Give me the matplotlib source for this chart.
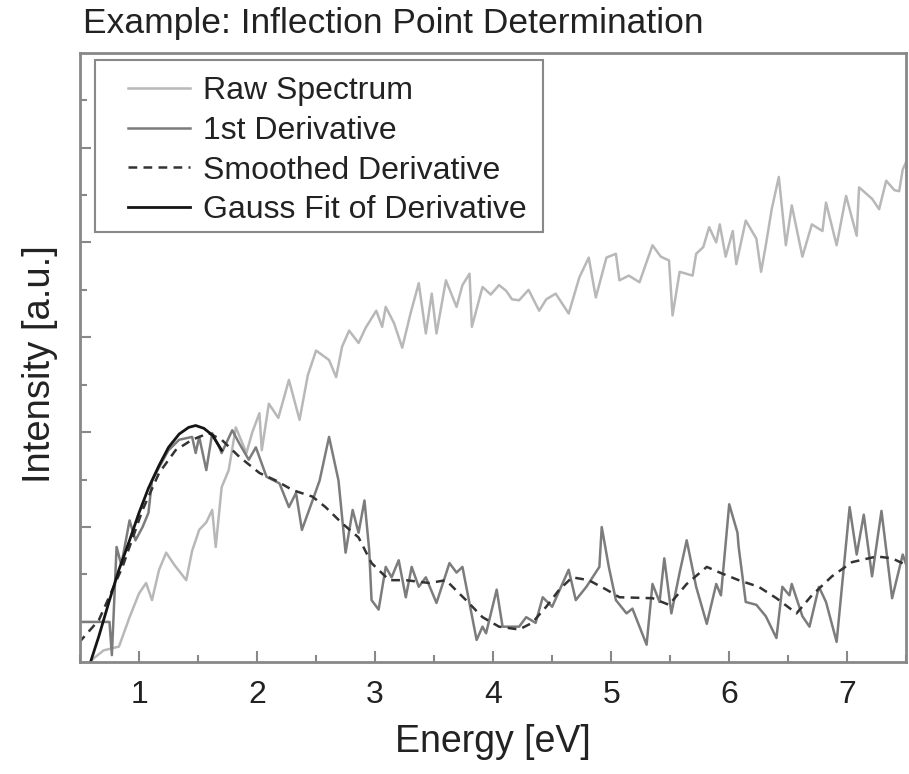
import matplotlib.pyplot as plt
from matplotlib.patches import Rectangle
import numpy as np

plt.rcParams['font.family'] = ['Liberation Sans', 'DejaVu Sans']

# Raw spectrum (light gray)
raw_x = [0.60, 0.70, 0.83, 0.92, 1.00, 1.06, 1.11, 1.17, 1.23, 1.30, 1.40, 1.45, 1.51, 1.57, 1.62, 1.65,
         1.70, 1.76, 1.82, 1.91, 1.96, 2.02, 2.04, 2.10, 2.18, 2.27, 2.36, 2.43, 2.50, 2.61, 2.67, 2.72,
         2.78, 2.86, 2.92, 3.01, 3.06, 3.09, 3.16, 3.23, 3.30, 3.37, 3.43, 3.48, 3.52, 3.60, 3.69, 3.74,
         3.80, 3.82, 3.91, 3.98, 4.05, 4.11, 4.16, 4.22, 4.30, 4.39, 4.45, 4.53, 4.64, 4.73, 4.81, 4.87,
         4.96, 5.04, 5.07, 5.15, 5.24, 5.35, 5.42, 5.49, 5.52, 5.58, 5.69, 5.72, 5.78, 5.83, 5.89, 5.92,
         5.97, 6.03, 6.06, 6.14, 6.23, 6.27, 6.31, 6.36, 6.42, 6.48, 6.53, 6.62, 6.70, 6.79, 6.82, 6.91,
         6.99, 7.08, 7.10, 7.21, 7.27, 7.33, 7.40, 7.44, 7.47, 7.50]
raw_y = [-0.40, -0.30, -0.26, 0.05, 0.30, 0.41, 0.23, 0.55, 0.73, 0.60, 0.44, 0.75, 0.97, 1.05, 1.18, 0.79,
         1.42, 1.60, 2.05, 1.78, 2.00, 2.20, 1.81, 2.30, 2.15, 2.55, 2.13, 2.60, 2.86, 2.76, 2.58, 2.90,
         3.07, 2.94, 3.10, 3.28, 3.11, 3.32, 3.15, 2.89, 3.25, 3.57, 3.04, 3.46, 3.04, 3.60, 3.32, 3.55,
         3.67, 3.11, 3.53, 3.45, 3.55, 3.49, 3.40, 3.39, 3.50, 3.28, 3.40, 3.46, 3.25, 3.63, 3.84, 3.42,
         3.84, 3.88, 3.60, 3.65, 3.58, 3.97, 3.85, 3.81, 3.23, 3.69, 3.65, 3.88, 3.95, 4.16, 4.00, 4.19,
         3.85, 4.12, 3.77, 4.23, 4.04, 3.69, 3.97, 4.35, 4.69, 3.97, 4.39, 3.85, 4.19, 4.12, 4.42, 3.97,
         4.49, 4.07, 4.58, 4.46, 4.35, 4.65, 4.55, 4.54, 4.77, 4.85]

# 1st derivative (mid gray)
der_x = [0.49, 0.75, 0.77, 0.81, 0.85, 0.92, 0.97, 1.03, 1.08, 1.11, 1.17, 1.25, 1.34, 1.45, 1.48, 1.51,
         1.57, 1.62, 1.68, 1.70, 1.79, 1.85, 1.93, 1.99, 2.08, 2.19, 2.27, 2.33, 2.38, 2.47, 2.53, 2.61,
         2.69, 2.75, 2.81, 2.86, 2.91, 2.95, 2.97, 3.03, 3.09, 3.14, 3.20, 3.26, 3.31, 3.37, 3.43, 3.52,
         3.63, 3.69, 3.74, 3.86, 3.91, 3.94, 4.03, 4.08, 4.22, 4.28, 4.36, 4.42, 4.50, 4.64, 4.70, 4.79,
         4.90, 4.92, 4.98, 5.04, 5.13, 5.18, 5.24, 5.30, 5.35, 5.41, 5.45, 5.51, 5.58, 5.64, 5.72, 5.81,
         5.89, 5.93, 6.00, 6.07, 6.08, 6.14, 6.23, 6.31, 6.40, 6.45, 6.51, 6.53, 6.62, 6.68, 6.76, 6.82,
         6.91, 7.02, 7.08, 7.14, 7.21, 7.29, 7.38, 7.47, 7.50]
der_y = [0.00, 0.00, -0.35, 0.79, 0.60, 1.07, 0.86, 1.00, 1.15, 1.49, 1.63, 1.81, 1.92, 1.95, 1.78, 1.95,
         1.60, 1.99, 1.84, 1.78, 2.02, 1.88, 1.71, 1.84, 1.53, 1.46, 1.21, 1.36, 0.97, 1.28, 1.49, 1.95,
         1.49, 0.73, 1.18, 0.94, 1.28, 0.76, 0.23, 0.13, 0.58, 0.47, 0.65, 0.26, 0.58, 0.37, 0.47, 0.20,
         0.62, 0.52, 0.58, -0.19, -0.05, -0.12, 0.34, -0.05, -0.05, 0.05, -0.01, 0.26, 0.16, 0.55, 0.23, 0.37,
         0.58, 1.00, 0.58, 0.23, 0.09, 0.14, -0.05, -0.24, 0.40, 0.21, 0.67, 0.09, 0.52, 0.86, 0.37, -0.02,
         0.40, 0.28, 1.24, 0.94, 0.79, 0.21, 0.18, 0.06, -0.17, 0.37, 0.28, 0.40, 0.06, -0.05, 0.37, 0.21,
         -0.21, 1.21, 0.71, 1.13, 0.48, 1.17, 0.25, 0.71, 0.60]

# Smoothed derivative (dashed)
smooth_x = [0.49, 0.66, 0.86, 1.03, 1.17, 1.31, 1.45, 1.59, 1.70, 1.85, 2.02, 2.16, 2.30, 2.47, 2.58, 2.72,
            2.86, 2.97, 3.12, 3.26, 3.46, 3.60, 3.77, 3.91, 4.05, 4.22, 4.33, 4.45, 4.56, 4.67, 4.81, 4.96,
            5.07, 5.35, 5.49, 5.64, 5.81, 5.92, 6.08, 6.25, 6.40, 6.57, 6.70, 6.87, 7.04, 7.25, 7.38, 7.50]
smooth_y = [-0.22, 0.02, 0.58, 1.18, 1.57, 1.81, 1.92, 1.99, 1.92, 1.74, 1.57, 1.49, 1.39, 1.32, 1.21, 1.04,
            0.89, 0.62, 0.44, 0.44, 0.41, 0.44, 0.23, 0.05, -0.05, -0.08, -0.01, 0.16, 0.34, 0.47, 0.44, 0.34,
            0.26, 0.25, 0.18, 0.40, 0.58, 0.52, 0.44, 0.37, 0.25, 0.09, 0.28, 0.48, 0.63, 0.69, 0.67, 0.60]

# Gauss fit of the derivative (black)
gauss_x = [0.59, 0.66, 0.75, 0.83, 0.92, 1.00, 1.08, 1.17, 1.25, 1.34, 1.42, 1.48, 1.55, 1.62, 1.70]
gauss_y = [-0.42, -0.15, 0.23, 0.55, 0.86, 1.15, 1.41, 1.65, 1.84, 1.98, 2.05, 2.07, 2.04, 1.97, 1.81]

fig = plt.figure(figsize=(9.09, 7.74), dpi=100)
ax = fig.add_axes([0.088, 0.145, 0.909, 0.787])

ax.plot(raw_x, raw_y, color='#b8b8b8', lw=1.8, label='Raw Spectrum')
ax.plot(der_x, der_y, color='#7c7c7c', lw=1.8, label='1st Derivative')
ax.plot(smooth_x, smooth_y, color='#333333', lw=1.8, dashes=(3.5, 2.5), label='Smoothed Derivative')
ax.plot(gauss_x, gauss_y, color='#151515', lw=2.0, label='Gauss Fit of Derivative')

ax.set_xlim(0.5, 7.5)
ax.set_ylim(-0.42, 6.0)
ax.set_xticks(np.arange(1, 8))
ax.set_xticks(np.arange(0.5, 7.6, 0.5), minor=True)
ax.set_yticks(np.arange(0, 6))
ax.set_yticks(np.arange(0.5, 6, 1.0), minor=True)
ax.set_yticklabels([])
ax.tick_params(which='both', direction='in', color='#888888', width=1.5)
ax.tick_params(which='major', length=8, labelsize=23, pad=13, labelcolor='#222222')
ax.tick_params(which='minor', length=5)
for s in ax.spines.values():
    s.set_color('#888888')
    s.set_linewidth(2)

ax.set_xlabel('Energy [eV]', fontsize=27, labelpad=10, color='#222222')
ax.set_ylabel('Intensity [a.u.]', fontsize=27.5, color='#222222')
ax.yaxis.set_label_coords(-0.027, 0.488)
fig.text(0.0913, 0.958, 'Example: Inflection Point Determination', fontsize=25.5, va='baseline', color='#222222')

# legend entries without frame, frame drawn separately so the padding matches
leg = ax.legend(loc='upper left', bbox_to_anchor=(0.058, 0.962), borderaxespad=0, borderpad=0,
                fontsize=23, frameon=False, handlelength=1.95, handletextpad=0.4, labelspacing=0.31)
for t in leg.get_texts():
    t.set_color('#222222')
ax.add_patch(Rectangle((0.0182, 0.706), 0.5423, 0.2825, transform=ax.transAxes, fill=False,
                       edgecolor='#888888', lw=1.5, zorder=5))

plt.savefig('out.png', dpi=100)
